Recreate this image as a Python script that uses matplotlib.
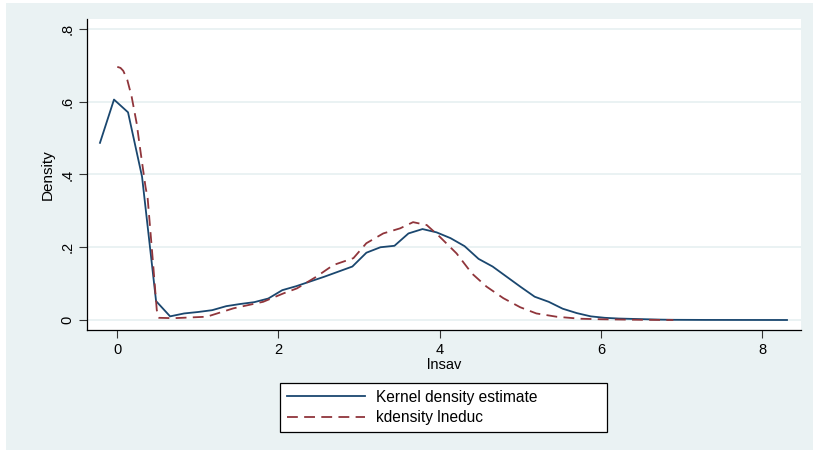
import matplotlib
matplotlib.use("Agg")
import matplotlib.pyplot as plt
from matplotlib.patches import Rectangle

plt.rcParams['font.family'] = ['Liberation Sans', 'DejaVu Sans']

# kernel density of lnsav (blue, solid)
sav_x = [-0.215, -0.041, 0.133, 0.307, 0.481, 0.655, 0.829, 1.003, 1.177, 1.351,
         1.525, 1.699, 1.873, 2.047, 2.221, 2.395, 2.569, 2.743, 2.917, 3.091,
         3.265, 3.439, 3.613, 3.787, 3.961, 4.135, 4.309, 4.483, 4.657, 4.831,
         5.005, 5.179, 5.353, 5.527, 5.701, 5.875, 6.049, 6.223, 6.397, 6.571,
         6.745, 6.919, 7.3, 7.8, 8.31]
sav_y = [0.487, 0.606, 0.571, 0.394, 0.052, 0.010, 0.018, 0.022, 0.027, 0.038,
         0.044, 0.049, 0.059, 0.082, 0.093, 0.106, 0.119, 0.133, 0.147, 0.185,
         0.200, 0.204, 0.238, 0.250, 0.241, 0.225, 0.203, 0.168, 0.147, 0.119,
         0.091, 0.064, 0.050, 0.031, 0.019, 0.010, 0.006, 0.004, 0.003, 0.002,
         0.001, 0.0005, 0.0002, 0.0001, 0.0]

# kernel density of lneduc (red, dashed)
educ_x = [0.0, 0.04, 0.074, 0.124, 0.178, 0.24, 0.28, 0.35, 0.377, 0.447, 0.49, 0.517,
          0.70, 1.11, 1.44, 1.81, 2.06, 2.23, 2.47, 2.68, 2.93, 3.09, 3.30, 3.51, 3.67,
          3.84, 4.00, 4.21, 4.40, 4.58, 4.79, 5.00, 5.20, 5.45, 5.74, 6.0, 6.5, 6.9]
educ_y = [0.696, 0.693, 0.685, 0.660, 0.614, 0.541, 0.476, 0.366, 0.334, 0.147, 0.027, 0.006,
          0.005, 0.009, 0.032, 0.050, 0.073, 0.087, 0.119, 0.151, 0.170, 0.211, 0.238, 0.252, 0.269,
          0.261, 0.229, 0.183, 0.128, 0.092, 0.060, 0.035, 0.018, 0.009, 0.0035, 0.002, 0.0005, 0.0]

xticks = [0, 2, 4, 6, 8]
yticks = [0, 0.2, 0.4, 0.6, 0.8]
ytick_labels = ['0', '.2', '.4', '.6', '.8']

bg = '#eaf2f3'
navy = '#1a476f'
maroon = '#90353b'

fig = plt.figure(figsize=(8.13, 4.5), dpi=100, facecolor='white')
fig.patches.append(Rectangle((6 / 813, 0), 1, 1 - 3 / 450, transform=fig.transFigure,
                             facecolor=bg, edgecolor='none', zorder=-10))

ax = fig.add_axes([87 / 813, 120 / 450, (800.7 - 87) / 813, (330 - 19) / 450])
ax.set_facecolor('white')

for yt in yticks:
    ax.axhline(yt, color=bg, lw=1.4, zorder=0)

ax.plot(sav_x, sav_y, color=navy, lw=1.3, label='Kernel density estimate', zorder=3)
ax.plot(educ_x, educ_y, color=maroon, lw=1.3, dashes=(6, 3.5), label='kdensity lneduc', zorder=3)

ax.set_xlim(-0.376, 8.48)
ax.set_ylim(-0.0275, 0.8275)
ax.set_xticks(xticks)
ax.set_yticks(yticks)
ax.set_yticklabels(ytick_labels, rotation=90, va='center')
ax.tick_params(axis='both', labelsize=10.5, length=6, width=0.8, color='#333333')
ax.tick_params(axis='x', pad=3)
ax.tick_params(axis='y', pad=3)

for s in ['top', 'right']:
    ax.spines[s].set_visible(False)
for s in ['left', 'bottom']:
    ax.spines[s].set_color('black')
    ax.spines[s].set_linewidth(0.9)

ax.set_xlabel('lnsav', fontsize=10.5, labelpad=1)
ax.set_ylabel('Density', fontsize=11, labelpad=4)

# legend box spans x 280..607, y 381..432 px
leg = fig.legend(loc='lower left', mode='expand', borderaxespad=0,
                 bbox_to_anchor=(280 / 813, 1 - 432 / 450, 327 / 813, 51 / 450),
                 fontsize=11.2, handlelength=5.0, handletextpad=0.7,
                 borderpad=0.45, labelspacing=0.35, fancybox=False, framealpha=1,
                 edgecolor='black')
leg.get_frame().set_linewidth(0.9)

fig.savefig('out.png', dpi=100, facecolor=fig.get_facecolor())
